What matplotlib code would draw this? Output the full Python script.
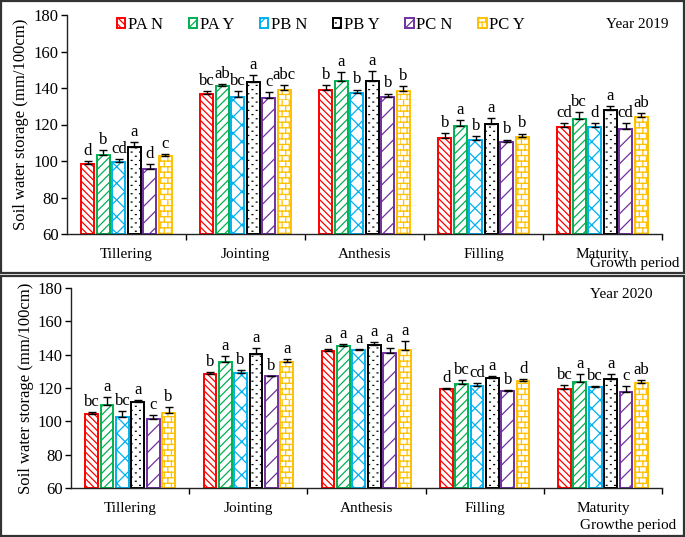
import numpy as np
import matplotlib
matplotlib.use("Agg")
import matplotlib.pyplot as plt
import matplotlib.hatch as mhatch
from matplotlib.path import Path
from matplotlib.patches import Rectangle
import warnings
warnings.filterwarnings("ignore")

plt.rcParams['font.family'] = ['Liberation Serif', 'DejaVu Serif']
plt.rcParams['hatch.linewidth'] = 0.9

# ---------------- data ----------------
stages = ["Tillering", "Jointing", "Anthesis", "Filling", "Maturity"]
treatments = ["PA N", "PA Y", "PB N", "PB Y", "PC N", "PC Y"]

means_2019 = [
    [98.5, 103.5, 99.5, 107.5, 95.6, 102.6],
    [136.9, 140.9, 134.9, 143.1, 134.5, 139.1],
    [139.1, 143.7, 137.3, 143.8, 135.3, 138.4],
    [112.6, 119.4, 111.5, 120.3, 110.2, 113.2],
    [118.8, 123.2, 118.6, 127.8, 117.5, 124.1],
]
errs_2019 = [
    [1.3, 2.4, 1.6, 2.7, 2.9, 1.3],
    [1.3, 1.1, 3.6, 4.0, 3.1, 2.7],
    [2.4, 5.1, 1.8, 5.3, 1.6, 2.7],
    [2.9, 2.9, 2.2, 3.3, 1.5, 1.8],
    [2.0, 3.7, 2.0, 2.4, 3.1, 2.2],
]
letters_2019 = [
    ["d", "b", "cd", "a", "d", "c"],
    ["bc", "ab", "bc", "a", "c", "abc"],
    ["b", "a", "b", "a", "b", "b"],
    ["b", "a", "b", "a", "b", "b"],
    ["cd", "bc", "d", "a", "cd", "ab"],
]

means_2020 = [
    [104.6, 110.0, 102.8, 111.8, 101.2, 105.2],
    [128.4, 135.8, 129.0, 140.6, 127.2, 135.4],
    [142.4, 145.2, 143.0, 146.0, 141.2, 143.0],
    [119.4, 122.4, 121.0, 126.2, 118.4, 124.4],
    [119.2, 123.4, 120.6, 125.6, 117.8, 123.0],
]
errs_2020 = [
    [1.0, 4.4, 3.2, 0.8, 2.4, 3.2],
    [1.4, 3.6, 1.8, 3.2, 0.2, 2.0],
    [1.2, 1.2, 0.2, 1.4, 3.0, 5.4],
    [0.6, 2.4, 2.0, 1.2, 0.4, 0.8],
    [2.6, 5.2, 0.8, 2.6, 3.4, 1.8],
]
letters_2020 = [
    ["bc", "a", "bc", "a", "c", "b"],
    ["b", "a", "b", "a", "b", "a"],
    ["a", "a", "a", "a", "a", "a"],
    ["d", "bc", "cd", "a", "b", "d"],
    ["bc", "a", "bc", "a", "c", "ab"],
]

colors = ["#FF0000", "#00B050", "#00B0F0", "#000000", "#7030A0", "#FFC000"]
hatches = ["\\\\\\\\\\", "////", "xx", "D", "//", "B"]


# ---------------- custom hatches (bricks, small dots) ----------------
class BrickHatch(mhatch.HatchPatternBase):
    def __init__(self, hatch, density):
        n = hatch.count('B')
        self.rows = 18 * n
        self.cols = 14 * n
        self.num_vertices = 0 if n == 0 else self.rows * 2 + self.rows * self.cols * 2

    def set_vertices_and_codes(self, vertices, codes):
        rows, cols = self.rows, self.cols
        dy = 1.0 / rows
        dx = 1.0 / cols
        k = 0
        for r in range(rows):
            y = r * dy
            vertices[k] = (0.0, y); codes[k] = Path.MOVETO; k += 1
            vertices[k] = (1.0, y); codes[k] = Path.LINETO; k += 1
        for r in range(rows):
            y0 = r * dy
            off = 0.0 if r % 2 == 0 else dx / 2
            for c in range(cols):
                x = c * dx + off
                vertices[k] = (x, y0); codes[k] = Path.MOVETO; k += 1
                vertices[k] = (x, y0 + dy); codes[k] = Path.LINETO; k += 1


class DotHatch(mhatch.HatchPatternBase):
    def __init__(self, hatch, density):
        n = hatch.count('D')
        self.rows = 24 * n
        self.cols = 12 * n
        self.num_vertices = 0 if n == 0 else self.rows * self.cols * 2

    def set_vertices_and_codes(self, vertices, codes):
        rows, cols = self.rows, self.cols
        dy = 1.0 / rows
        dx = 1.0 / cols
        seg = 0.008
        k = 0
        for r in range(rows):
            y = (r + 0.5) * dy
            off = 0.0 if r % 2 == 0 else dx / 2
            for c in range(cols):
                x = c * dx + off + dx / 4
                vertices[k] = (x, y); codes[k] = Path.MOVETO; k += 1
                vertices[k] = (x + seg, y); codes[k] = Path.LINETO; k += 1


mhatch._hatch_types.append(BrickHatch)
mhatch._hatch_types.append(DotHatch)

W, H = 685, 537
fig = plt.figure(figsize=(W / 100, H / 100), dpi=100)


def fx(px):
    return px / W


def fy(py):
    return 1 - py / H


# panel frames
for (x0, y0, x1, y1) in [(1, 1, 683.5, 272.5), (1, 275.5, 683.5, 536)]:
    fig.patches.append(Rectangle((fx(x0), fy(y1)), fx(x1) - fx(x0), fy(y0) - fy(y1),
                                 transform=fig.transFigure, fill=False,
                                 edgecolor="#333333", linewidth=1.6))

slot = 0.13
bw = 0.108


def draw_panel(ax, means, errs, letters):
    x = np.arange(len(stages))
    means = np.array(means)
    errs = np.array(errs)
    handles = []
    for i in range(len(treatments)):
        pos = x + (i - 2.5) * slot
        b = ax.bar(pos, means[:, i] - 60, bottom=60, width=bw, facecolor="white",
                   edgecolor=colors[i], hatch=hatches[i], linewidth=1.4,
                   label=treatments[i], zorder=2)
        ax.errorbar(pos, means[:, i], yerr=[np.zeros(len(stages)), errs[:, i]],
                    fmt="none", ecolor="black", elinewidth=1.0, capsize=3,
                    capthick=1.0, zorder=3)
        for j in range(len(stages)):
            ax.text(pos[j], means[j, i] + errs[j, i] + 1.2, letters[j][i],
                    ha="center", va="bottom", fontsize=12)
        handles.append(b)
    ax.set_ylim(60, 180)
    ax.set_yticks(np.arange(60, 181, 20))
    ax.set_xlim(-0.5, 4.5)
    ax.set_xticks(np.arange(0.5, 4.6, 1.0))
    ax.set_xticklabels([])
    ax.set_xticks(x, minor=True)
    ax.set_xticklabels(stages, minor=True)
    ax.tick_params(axis="x", which="minor", length=0, pad=10, labelsize=11)
    ax.tick_params(axis="x", which="major", length=4, direction="out", width=1)
    ax.tick_params(axis="y", length=4, direction="out", width=1, labelsize=12, pad=2)
    for s in ["top", "right"]:
        ax.spines[s].set_visible(False)
    for s in ["left", "bottom"]:
        ax.spines[s].set_linewidth(1.0)
        ax.spines[s].set_color("#222222")
    ax.set_ylabel("Soil water storage (mm/100cm)", fontsize=12, labelpad=3)
    return handles


# top panel (2019)
ax1 = fig.add_axes([fx(67), fy(234), fx(662) - fx(67), fy(15) - fy(234)])
h = draw_panel(ax1, means_2019, errs_2019, letters_2019)
leg = fig.legend(h, treatments, loc="center left", bbox_to_anchor=(fx(117), fy(25)),
                 ncol=6, frameon=False, fontsize=12, handlelength=0.5,
                 handleheight=0.5, handletextpad=0.15, columnspacing=1.55,
                 borderaxespad=0, borderpad=0)
fig.text(fx(669), fy(25), "Year 2019", ha="right", va="center", fontsize=11)
fig.text(fx(679), fy(264), "Growth period", ha="right", va="center", fontsize=11)

# bottom panel (2020)
ax2 = fig.add_axes([fx(71), fy(488), fx(662) - fx(71), fy(288) - fy(488)])
draw_panel(ax2, means_2020, errs_2020, letters_2020)
fig.text(fx(653), fy(295), "Year 2020", ha="right", va="center", fontsize=11)
fig.text(fx(676), fy(526), "Growthe period", ha="right", va="center", fontsize=11)

fig.savefig("out.png", dpi=100)
